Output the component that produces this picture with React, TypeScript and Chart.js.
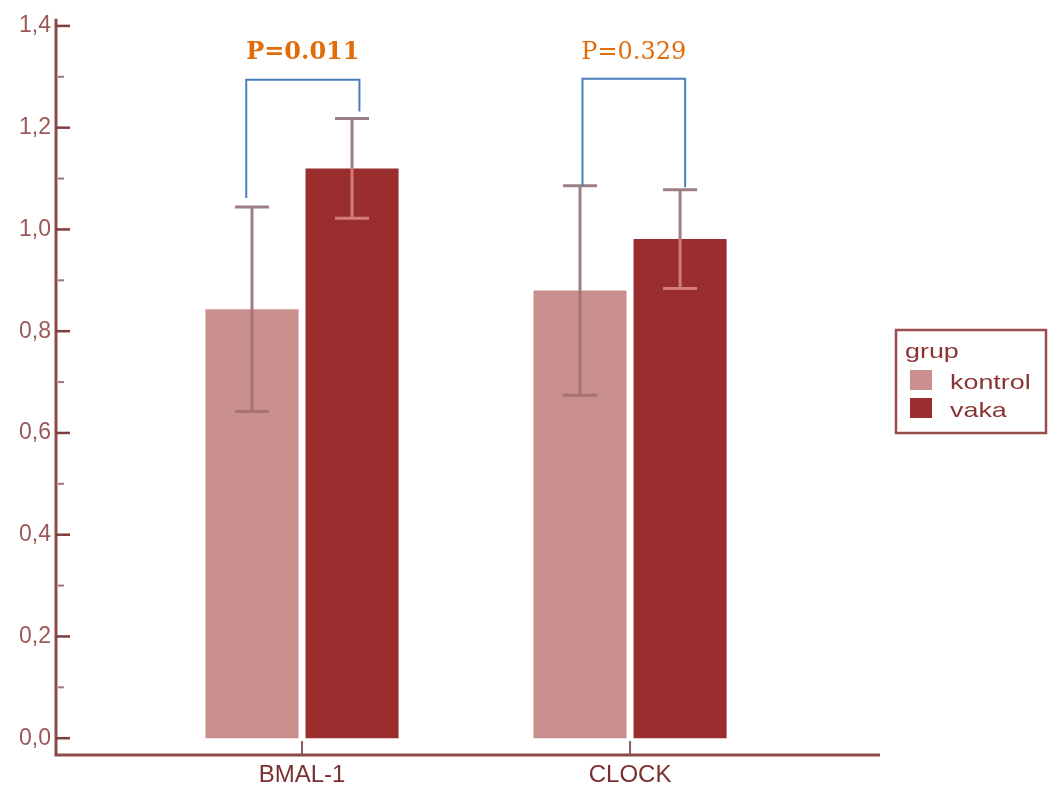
import React, { useEffect, useRef } from "react";
import { Chart, registerables } from "chart.js";

Chart.register(...registerables);

// ---- data ----
const categories = ["BMAL-1", "CLOCK"];
const groupTitle = "grup";
const groupLabels = ["kontrol", "vaka"];
const kontrolMeans = [0.843, 0.88];
const vakaMeans = [1.12, 0.981];
const kontrolErr = [0.201, 0.206];
const vakaErr = [0.098, 0.097];
const yTickValues = [0, 0.1, 0.2, 0.3, 0.4, 0.5, 0.6, 0.7, 0.8, 0.9, 1.0, 1.1, 1.2, 1.3, 1.4];
const pLabels = ["P=0.011", "P=0.329"];
const pBold = [true, false];
const pTextY = [1.347, 1.347];
const bracketTop = [1.294, 1.296];
const bracketLeftBottom = [1.062, 1.085];
const bracketRightBottom = [1.232, 1.083];
const bracketLeftX = [-0.17, 0.855];
const bracketRightX = [0.175, 1.168];

const COLORS = {
  kontrol: "#c98f8e",
  vaka: "#9a2e2e",
  axis: "#8c4a4a",
  tickLabel: "#9b5858",
  catLabel: "#7a3030",
  errUpper: "#9c7f85",
  errInnerK: "#a77272",
  errInnerV: "#d27c7c",
  bracket: "#4a7ebb",
  pText: "#e36c0a",
  legendText: "#8a3535",
};

const overlayPlugin = {
  id: "overlay",
  afterDatasetsDraw(chart: any) {
    const ctx = chart.ctx;
    const xs = chart.scales.x;
    const ys = chart.scales.y;
    const means = [kontrolMeans, vakaMeans];
    const errs = [kontrolErr, vakaErr];
    const inner = [COLORS.errInnerK, COLORS.errInnerV];
    ctx.save();
    ctx.lineWidth = 3;
    for (let d = 0; d < 2; d++) {
      const meta = chart.getDatasetMeta(d);
      meta.data.forEach((el: any, i: number) => {
        const x = el.x;
        const yTop = ys.getPixelForValue(means[d][i] + errs[d][i]);
        const yMid = ys.getPixelForValue(means[d][i]);
        const yBot = ys.getPixelForValue(means[d][i] - errs[d][i]);
        const cap = 17;
        ctx.strokeStyle = COLORS.errUpper;
        ctx.beginPath();
        ctx.moveTo(x, yTop);
        ctx.lineTo(x, yMid);
        ctx.moveTo(x - cap, yTop);
        ctx.lineTo(x + cap, yTop);
        ctx.stroke();
        ctx.strokeStyle = inner[d];
        ctx.beginPath();
        ctx.moveTo(x, yMid);
        ctx.lineTo(x, yBot);
        ctx.moveTo(x - cap, yBot);
        ctx.lineTo(x + cap, yBot);
        ctx.stroke();
      });
    }
    // brackets and p-values
    ctx.strokeStyle = COLORS.bracket;
    ctx.lineWidth = 2;
    for (let i = 0; i < categories.length; i++) {
      const xl = xs.getPixelForValue(bracketLeftX[i]);
      const xr = xs.getPixelForValue(bracketRightX[i]);
      const yt = ys.getPixelForValue(bracketTop[i]);
      ctx.beginPath();
      ctx.moveTo(xl, ys.getPixelForValue(bracketLeftBottom[i]));
      ctx.lineTo(xl, yt);
      ctx.lineTo(xr, yt);
      ctx.lineTo(xr, ys.getPixelForValue(bracketRightBottom[i]));
      ctx.stroke();
      ctx.fillStyle = COLORS.pText;
      ctx.font = (pBold[i] ? "bold " : "") + "24px 'DejaVu Serif'";
      ctx.textAlign = "center";
      ctx.textBaseline = "middle";
      ctx.fillText(pLabels[i], (xl + xr) / 2, ys.getPixelForValue(pTextY[i]));
    }
    ctx.restore();
  },
  afterDraw(chart: any) {
    const ctx = chart.ctx;
    const xs = chart.scales.x;
    const ys = chart.scales.y;
    const ca = chart.chartArea;
    ctx.save();
    // axis lines
    ctx.strokeStyle = COLORS.axis;
    ctx.lineWidth = 3;
    ctx.beginPath();
    ctx.moveTo(ca.left, ca.top);
    ctx.lineTo(ca.left, ca.bottom);
    ctx.lineTo(ca.right, ca.bottom);
    ctx.stroke();
    // y ticks (inward)
    yTickValues.forEach((v, i) => {
      const y = ys.getPixelForValue(v);
      const major = i % 2 === 0;
      ctx.strokeStyle = major ? "#7e3c3c" : "#9a7a7a";
      ctx.lineWidth = major ? 2.5 : 2;
      ctx.beginPath();
      ctx.moveTo(ca.left + (major ? 0 : 2), y);
      ctx.lineTo(ca.left + (major ? 14 : 8), y);
      ctx.stroke();
    });
    // x ticks (inward)
    ctx.strokeStyle = "#8a5a5a";
    ctx.lineWidth = 2;
    categories.forEach((_, i) => {
      const x = xs.getPixelForValue(i);
      ctx.beginPath();
      ctx.moveTo(x, ca.bottom);
      ctx.lineTo(x, ca.bottom - 14);
      ctx.stroke();
    });
    // legend
    const lx = ca.right + 16;
    const ly = 330;
    ctx.strokeStyle = "#9b4d4d";
    ctx.lineWidth = 2.5;
    ctx.strokeRect(lx, ly, 150, 103);
    const drawText = (t: string, x: number, y: number) => {
      ctx.save();
      ctx.translate(x, y);
      ctx.scale(1.28, 1);
      ctx.fillText(t, 0, 0);
      ctx.restore();
    };
    ctx.fillStyle = COLORS.legendText;
    ctx.font = "21px 'Liberation Sans'";
    ctx.textAlign = "left";
    ctx.textBaseline = "alphabetic";
    drawText(groupTitle, lx + 9, ly + 28);
    chart.data.datasets.forEach((ds: any, i: number) => {
      const sy = ly + 40 + i * 28;
      ctx.fillStyle = ds.backgroundColor;
      ctx.fillRect(lx + 14, sy, 22, 20);
      ctx.fillStyle = COLORS.legendText;
      drawText(ds.label, lx + 54, sy + 19);
    });
    ctx.restore();
  },
};

export default function App() {
  const ref = useRef<HTMLCanvasElement | null>(null);
  useEffect(() => {
    if (!ref.current) return;
    const chart = new Chart(ref.current, {
      type: "bar",
      data: {
        datasets: [
          {
            label: groupLabels[0],
            data: kontrolMeans.map((v, i) => ({ x: i, y: v })),
            backgroundColor: COLORS.kontrol,
            categoryPercentage: 0.61,
            barPercentage: 0.93,
          },
          {
            label: groupLabels[1],
            data: vakaMeans.map((v, i) => ({ x: i, y: v })),
            backgroundColor: COLORS.vaka,
            categoryPercentage: 0.61,
            barPercentage: 0.93,
          },
        ],
      },
      options: {
        animation: false,
        responsive: true,
        maintainAspectRatio: false,
        layout: { padding: { top: 15, right: 168, left: 0, bottom: 0 } },
        plugins: { legend: { display: false }, tooltip: { enabled: false } },
        scales: {
          x: {
            type: "linear",
            offset: false,
            min: -0.75,
            max: 1.762,
            grid: { display: false, drawTicks: false },
            border: { display: false },
            afterBuildTicks: (s: any) => {
              s.ticks = categories.map((_, i) => ({ value: i }));
            },
            afterFit: (s: any) => {
              s.height = 35;
            },
            ticks: {
              autoSkip: false,
              maxRotation: 0,
              padding: 6,
              color: COLORS.catLabel,
              font: { family: "'Liberation Sans'", size: 24 },
              callback: (v: any) => categories[Math.round(Number(v))] ?? "",
            },
          },
          y: {
            type: "linear",
            min: -0.033,
            max: 1.414,
            grid: { display: false, drawTicks: false },
            border: { display: false },
            afterBuildTicks: (s: any) => {
              s.ticks = yTickValues.map((v) => ({ value: v }));
            },
            afterFit: (s: any) => {
              s.width = 56;
            },
            ticks: {
              autoSkip: false,
              padding: 5,
              color: COLORS.tickLabel,
              font: { family: "'Liberation Sans'", size: 23 },
              callback: (v: any, i: number) =>
                i % 2 === 0 ? Number(v).toFixed(1).replace(".", ",") : "",
            },
          },
        },
      },
      plugins: [overlayPlugin],
    });
    return () => chart.destroy();
  }, []);
  return (
    <div style={{ position: "fixed", left: 0, top: 0, width: 1048, height: 790, background: "#fff" }}>
      <canvas ref={ref} />
    </div>
  );
}
